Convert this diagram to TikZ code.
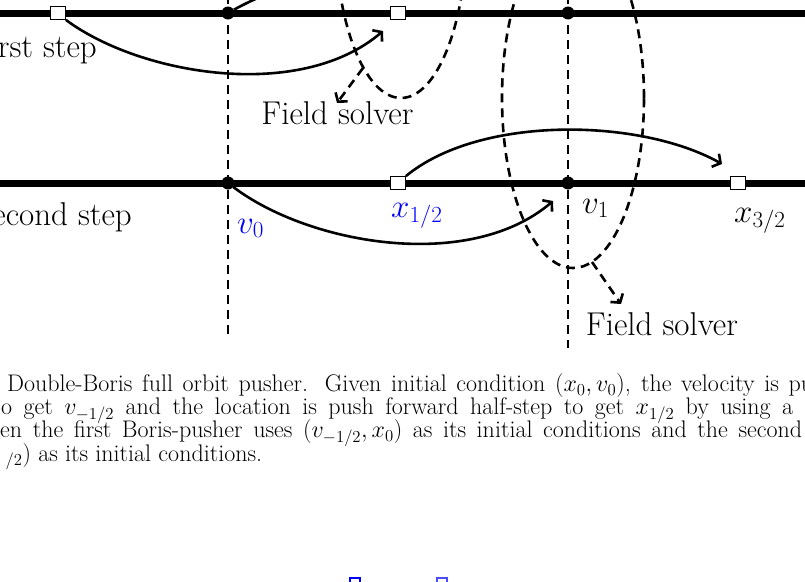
\documentclass[tikz,border=0pt]{standalone}
\usepackage{fix-cm}
\usepackage{amsmath,amssymb}
\usetikzlibrary{arrows.meta}

\begin{document}
\begin{tikzpicture}[x=1pt, y=-1pt,
    rail/.style={line width=7pt},
    ptx/.style={draw, line width=0.8pt, fill=white, minimum width=15pt, minimum height=13pt, inner sep=0pt},
    ptv/.style={circle, fill=black, minimum size=13pt, inner sep=0pt},
    push/.style={-{Straight Barb[length=6pt, width=15pt]}, line width=2.6pt},
    tline/.style={dash pattern=on 9pt off 6pt, line width=2.6pt},
    fsarr/.style={-{Straight Barb[length=6pt, width=15pt]}, dash pattern=on 9pt off 6pt, line width=2.6pt},
    lbl/.style={font=\fontsize{33}{40}\selectfont, inner sep=0pt},
    captxt/.style={font=\fontsize{24}{23.2}\selectfont, inner sep=0pt, text height=14pt, text depth=4pt, anchor=base west}]
    \useasboundingbox (0,0) rectangle (805,581);
    \clip (0,0) rectangle (805,581);

    \coordinate (r1w) at (-20,13);  \coordinate (r1e) at (825,13);
    \coordinate (r2w) at (-20,183); \coordinate (r2e) at (825,183);
    \draw[rail] (r1w) -- (r1e);
    \draw[rail] (r2w) -- (r2e);

    \coordinate (t0a) at (228,-20); \coordinate (t0b) at (228,336);
    \coordinate (t1a) at (568,-20); \coordinate (t1b) at (568,348);
    \draw[tline] (t0a) -- (t0b);
    \draw[tline] (t1a) -- (t1b);

    \draw[tline] (401,-72) ellipse [x radius=66pt, y radius=170pt];
    \draw[tline] (573,98) ellipse [x radius=71pt, y radius=170pt];

    \node[ptx] (q0) at (58,13) {};
    \node[ptv] (a0) at (228,13) {};
    \node[ptx] (q1) at (398,13) {};
    \node[ptv] (a1) at (568,13) {};
    \node[ptv] (b0) at (228,183) {};
    \node[ptx] (p1) at (398,183) {};
    \node[ptv] (b1) at (568,183) {};
    \node[ptx] (p3) at (738,183) {};

    \coordinate (h1) at (383,31);
    \coordinate (h2) at (553,-5);
    \coordinate (h3) at (553,201);
    \coordinate (h4) at (722,164);
    \draw[push] (q0.south east) .. controls (140,75) and (300,102) .. (h1);
    \draw[push] (a0) .. controls (320,-38) and (470,-55) .. (h2);
    \draw[push] (b0) .. controls (310,245) and (470,272) .. (h3);
    \draw[push] (p1.north east) .. controls (480,115) and (640,118) .. (h4);

    \node[lbl, anchor=base east] (s1) at (97,57) {rst step};
    \node[lbl, anchor=base east] (s2) at (132,225) {econd step};
    \node[lbl, anchor=base west, text=blue] (lv0) at (237,233) {$v_0$};
    \node[lbl, anchor=base west, text=blue] (lx1) at (391,217) {$x_{1/2}$};
    \node[lbl, anchor=base west] (lv1) at (582,213) {$v_1$};
    \node[lbl, anchor=base west] (lx3) at (734,222) {$x_{3/2}$};

    \node[lbl, anchor=base] (fs1) at (337.5,124) {Field solver};
    \node[lbl, anchor=base] (fs2) at (662,335) {Field solver};
    \coordinate (f1) at (363,68);  \coordinate (g1) at (337,103);
    \coordinate (f2) at (592,262); \coordinate (g2) at (621,304);
    \draw[fsarr] (f1) -- (g1);
    \draw[fsarr] (f2) -- (g2);

    \node[captxt] (c1) at (0,391.5) {\hbox to 813pt{\kern7pt Double-Boris full orbit pusher. Given initial condition $(x_0, v_0)$, the velocity is pu}};
    \node[captxt] (c2) at (0,414.7) {\hbox to 793pt{\kern1pt o get $v_{-1/2}$ and the location is push forward half-step to get $x_{1/2}$ by using a}};
    \node[captxt] (c3) at (0,437.9) {\hbox to 802pt{en the first Boris-pusher uses $(v_{-1/2}, x_0)$ as its initial conditions and the second}};
    \node[captxt] (c4) at (0,461) {\hbox to 262pt{\hfil$_{/2})$ as its initial conditions.}};

    \draw[blue, line width=1.2pt] (350,578) rectangle (360,595);
    \draw[blue!70, line width=1.2pt] (437,578) rectangle (447,595);
\end{tikzpicture}
\end{document}
